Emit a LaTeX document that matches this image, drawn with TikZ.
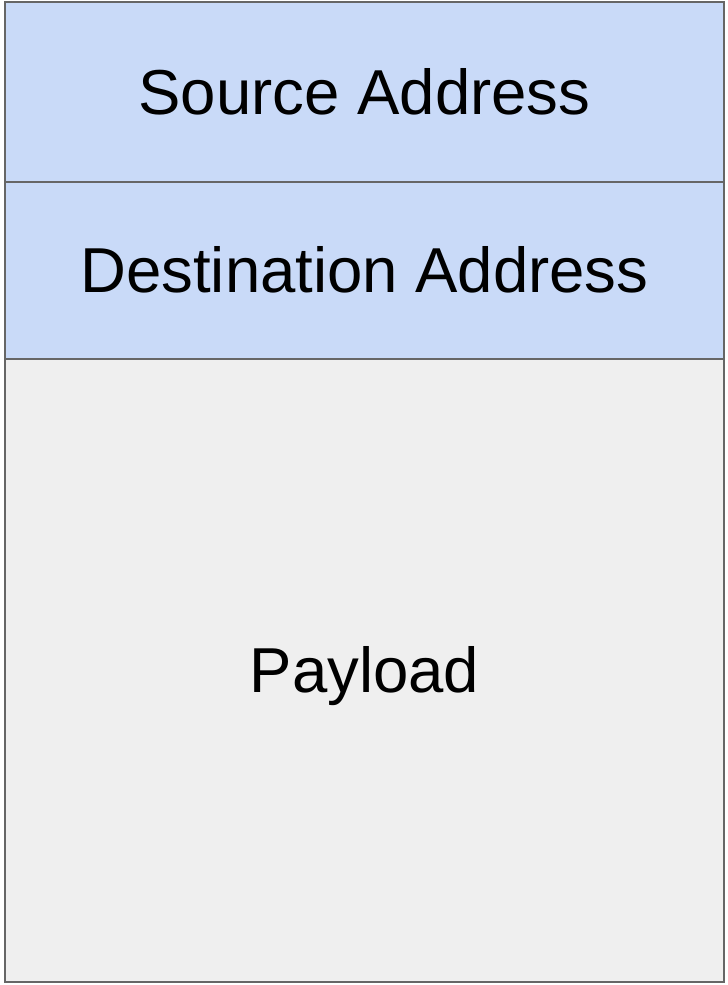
\documentclass[tikz,border=0pt]{standalone}
\usepackage{fontspec}
\setmainfont{Liberation Sans}
\usepackage{xcolor}
\usetikzlibrary{positioning}
\definecolor{addrblue}{HTML}{C9DAF8}
\definecolor{payloadgray}{HTML}{EFEFEF}
\definecolor{edgegray}{HTML}{666666}

\begin{document}
\begin{tikzpicture}[x=1pt, y=1pt, node distance=0pt,
  field/.style={rectangle, draw=edgegray, line width=2pt, outer sep=0pt, minimum width=719pt, inner sep=0pt, text height=45pt, text depth=0pt, font=\fontsize{63.5}{76}\selectfont}]
  \useasboundingbox (0,0) rectangle (728,985);
  \node[field, fill=addrblue, minimum height=180pt, anchor=north west] (src) at (5,983) {Source Address};
  \node[field, fill=addrblue, minimum height=177pt, below=of src] (dst) {Destination Address};
  \node[field, fill=payloadgray, minimum height=623pt, below=of dst] (pay) {Payload};
\end{tikzpicture}
\end{document}
